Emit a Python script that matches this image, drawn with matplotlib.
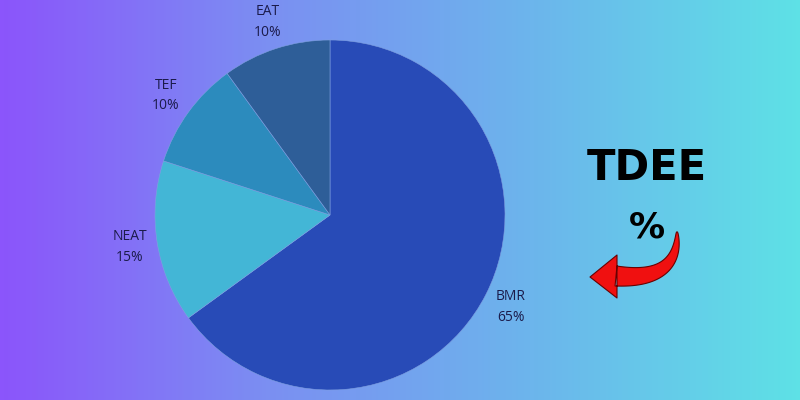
import matplotlib
matplotlib.use("Agg")
import matplotlib.pyplot as plt
import numpy as np
from matplotlib.colors import LinearSegmentedColormap
from matplotlib.patches import Polygon

# data (clockwise from 12 o'clock)
labels = ["BMR", "NEAT", "TEF", "EAT"]
shares = [65, 15, 10, 10]
colors = ["#284bb7", "#43b6d6", "#2c8bbd", "#2e5e98"]

title = "TDEE"
subtitle = "%"

fig = plt.figure(figsize=(8, 4), dpi=100)
ax = fig.add_axes([0, 0, 1, 1])

# background gradient purple -> cyan
bg = LinearSegmentedColormap.from_list("bg", ["#8b55fb", "#7b8ff2", "#6cb5ec", "#5ee1e6"])
grad = np.linspace(0, 1, 400).reshape(1, -1)
ax.imshow(grad, cmap=bg, extent=[0, 800, 0, 400], aspect="auto", zorder=0)

wedges, texts = ax.pie(shares, colors=colors, startangle=90, counterclock=False,
                       center=(330, 185), radius=175, frame=True,
                       labels=[f"{l}\n{s}%" for l, s in zip(labels, shares)],
                       labeldistance=1.16,
                       wedgeprops=dict(edgecolor="#7fa0e0", linewidth=0.4),
                       textprops=dict(fontsize=10, color="#1b1b4b", family="Open Sans",
                                      ha="center", va="center", linespacing=1.5))
for w in wedges:
    w.set_zorder(2)
ax.set_xlim(0, 800)
ax.set_ylim(0, 400)
ax.set_aspect("equal")
ax.axis("off")

ax.text(647, 232, title, fontsize=30, fontweight="heavy", color="black",
        ha="center", va="center", zorder=3)
ax.text(647, 172, subtitle, fontsize=26, fontweight="bold", color="black",
        ha="center", va="center", zorder=3)

# curved red arrow: tapered shaft along a bezier, then a head
p0, p1, p2 = np.array([677, 168.]), np.array([679, 118.]), np.array([616, 124.])
t = np.linspace(0, 1, 60)[:, None]
pts = (1 - t) ** 2 * p0 + 2 * (1 - t) * t * p1 + t ** 2 * p2
d = 2 * (1 - t) * (p1 - p0) + 2 * t * (p2 - p1)
n = np.column_stack([-d[:, 1], d[:, 0]]) / np.linalg.norm(d, axis=1)[:, None]
w = (0.5 + 9.5 * t ** 0.7)
left = pts + n * w
right = pts - n * w
head = np.array([[617, 145.], [590, 123.], [617, 102.]])
shape = np.vstack([left, [[617, 134.]], head, [[617, 114.]], right[::-1]])
ax.add_patch(Polygon(shape, closed=True, facecolor="#f01010", edgecolor="#6a0000",
                     linewidth=0.8, joinstyle="round", zorder=3))

fig.savefig("out.png", dpi=100)
